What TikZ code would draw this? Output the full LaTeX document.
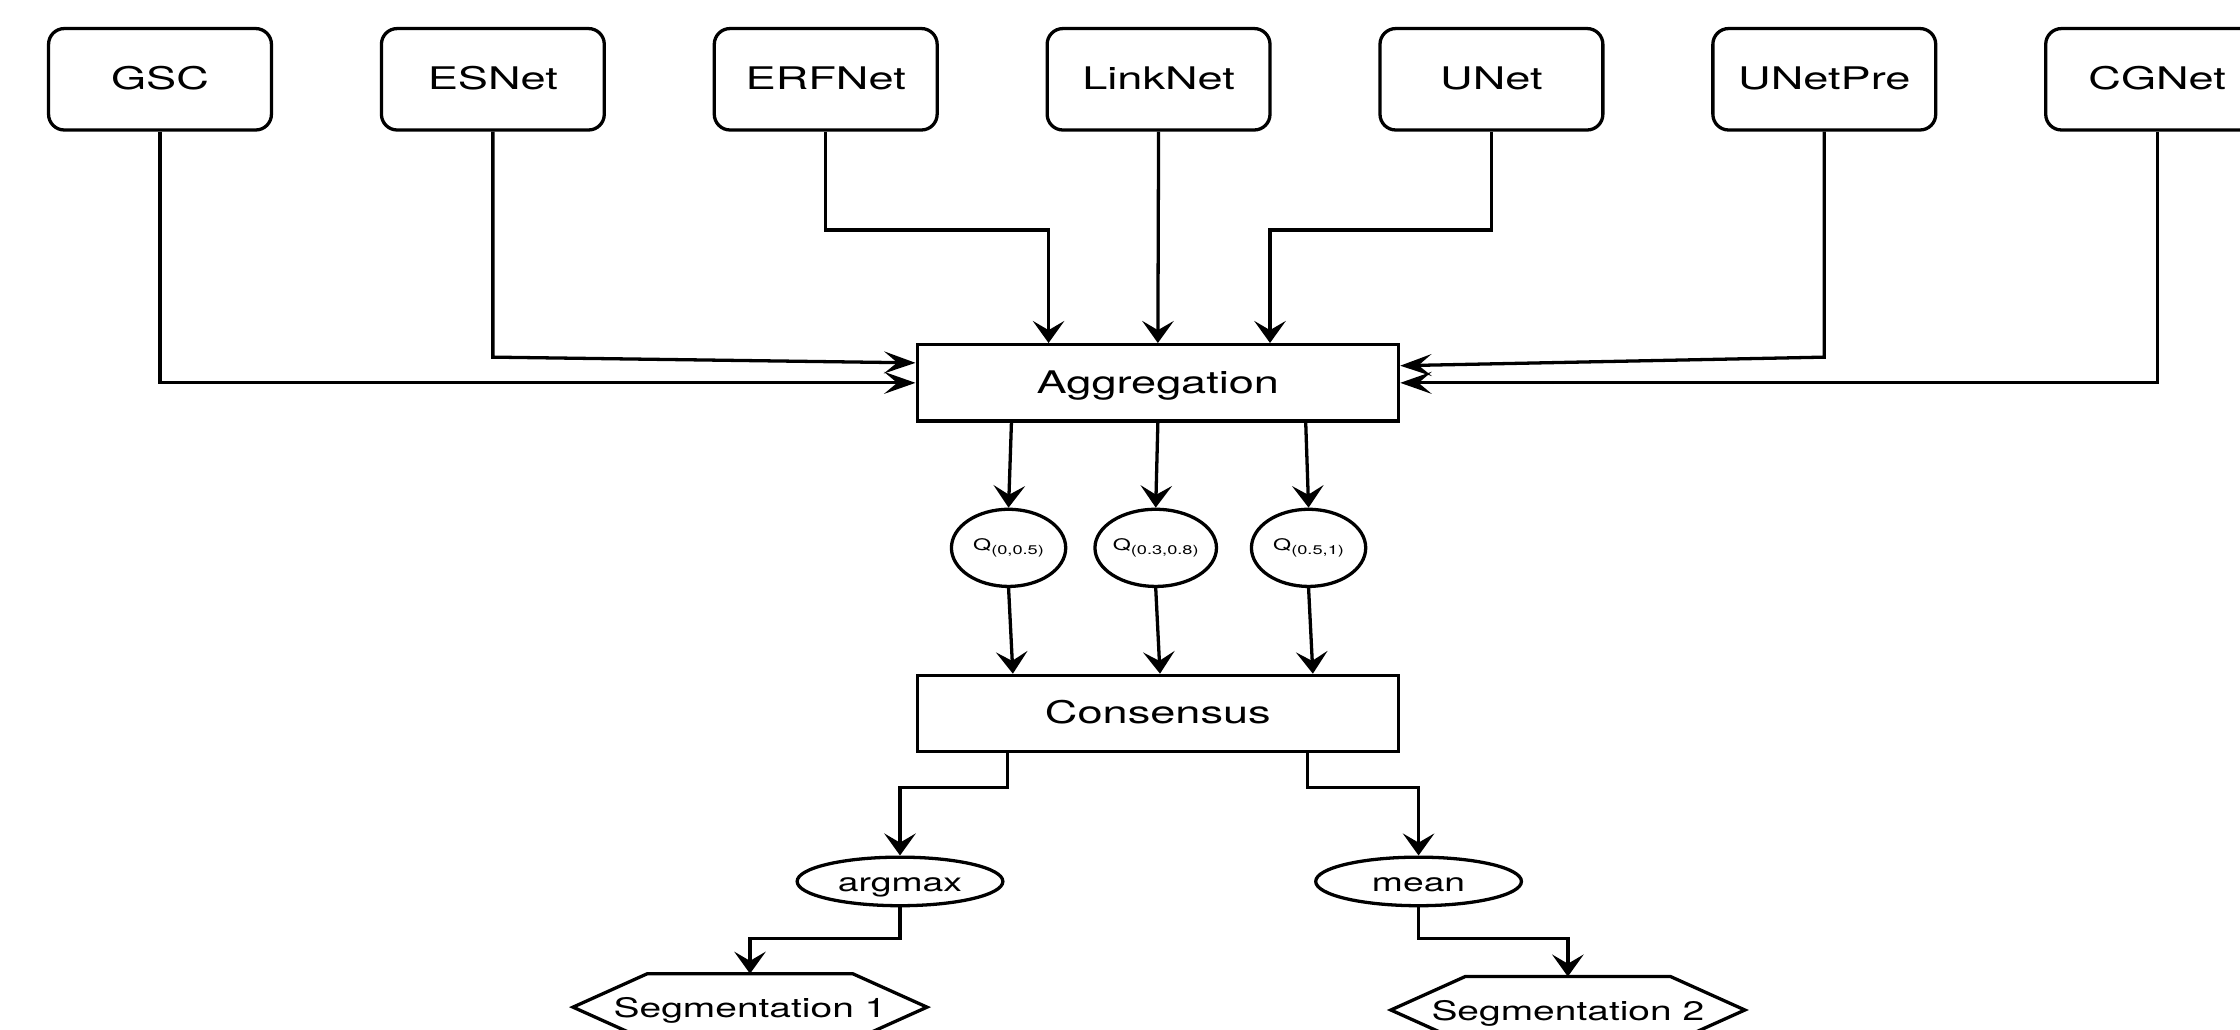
\documentclass[tikz,border=0pt]{standalone}
\usepackage{fontspec}
\setmainfont{TeX Gyre Heros}
\usepackage{graphicx}
\usetikzlibrary{arrows.meta,shapes.geometric}
\newcommand{\hstretch}[1]{\scalebox{1.45}[1]{#1}}
\newcommand{\qlab}[1]{\hstretch{Q\raisebox{-1.2pt}{\fontsize{4.4}{5}\selectfont(#1)}}}
\tikzset{
  capcenter/.style={text height=1.38ex, text depth=0pt},
  netbox/.style={draw, line width=1.15pt, rounded corners=5.5pt, minimum width=78pt, minimum height=35.5pt, inner sep=0pt, capcenter, font=\fontsize{10.9}{12}\selectfont},
  barbox/.style={draw, line width=1.15pt, minimum width=168.5pt, minimum height=26.75pt, inner sep=0pt, capcenter, font=\fontsize{10.9}{12}\selectfont},
  qell/.style={draw, line width=1.15pt, ellipse, minimum width=40pt, minimum height=27pt, inner sep=0pt, font=\fontsize{5.6}{7}\selectfont},
  opell/.style={draw, line width=1.15pt, ellipse, minimum width=72pt, minimum height=17pt, inner sep=0pt, capcenter, font=\fontsize{9}{10}\selectfont},
  segtxt/.style={minimum width=123.5pt, minimum height=23pt, inner sep=0pt, capcenter, font=\fontsize{9.4}{11}\selectfont},
  hexline/.style={draw, line width=1.15pt, line join=miter},
  varr/.style={draw, line width=1.15pt, -{Stealth[length=7.7pt,width=11pt,inset=3.2pt]}},
  harr/.style={draw, line width=1.15pt, -{Stealth[length=11pt,width=7.7pt,inset=4.6pt]}}
}
\begin{document}
\begin{tikzpicture}[x=0.5pt,y=-0.5pt]
\useasboundingbox (0,0) rectangle (1568,721);
% top network boxes
\node[netbox] (gsc)     at (112,55.5)  {\hstretch{GSC}};
\node[netbox] (esnet)   at (345,55.5)  {\hstretch{ESNet}};
\node[netbox] (erfnet)  at (578,55.5)  {\hstretch{ERFNet}};
\node[netbox] (linknet) at (811,55.5)  {\hstretch{LinkNet}};
\node[netbox] (unet)    at (1044,55.5) {\hstretch{UNet}};
\node[netbox] (unetpre) at (1277,55.5) {\hstretch{UNetPre}};
\node[netbox] (cgnet)   at (1510,55.5) {\hstretch{CGNet}};
% aggregation and consensus
\node[barbox] (agg)  at (810.5,268)   {\hstretch{Aggregation}};
\node[barbox] (cons) at (810.5,499.5) {\hstretch{Consensus}};
% quantile ellipses
\node[qell] (q1) at (706,383.5) {\qlab{0,0.5}};
\node[qell] (q2) at (809,383.5) {\qlab{0.3,0.8}};
\node[qell] (q3) at (916,383.5) {\qlab{0.5,1}};
% operations
\node[opell] (argmax) at (630,617) {\hstretch{argmax}};
\node[opell] (mean)   at (993,617) {\hstretch{mean}};
% segmentation hexagons
\node[segtxt] (seg1) at (525,705)    {\hstretch{Segmentation 1}};
\node[segtxt] (seg2) at (1097.5,707) {\hstretch{Segmentation 2}};
\draw[hexline] (seg1.west) -- ([xshift=26pt]seg1.north west) -- ([xshift=-26pt]seg1.north east) -- (seg1.east) -- ([xshift=-26pt]seg1.south east) -- ([xshift=26pt]seg1.south west) -- cycle;
\draw[hexline] (seg2.west) -- ([xshift=26pt]seg2.north west) -- ([xshift=-26pt]seg2.north east) -- (seg2.east) -- ([xshift=-26pt]seg2.south east) -- ([xshift=26pt]seg2.south west) -- cycle;
% connectors into aggregation
\draw[harr] (gsc.south) |- (agg.west);
\draw[harr] (esnet.south) -- (345,250) -- ([yshift=7pt]agg.west);
\draw[varr] (erfnet.south) -- (578,161) -- (734,161) -- ([xshift=-38.25pt]agg.north);
\draw[varr] (linknet.south) -- (agg.north);
\draw[varr] (unet.south) -- (1044,161) -- (889,161) -- ([xshift=39.25pt]agg.north);
\draw[harr] (unetpre.south) -- (1277,250) -- ([yshift=6pt]agg.east);
\draw[harr] (cgnet.south) |- (agg.east);
% aggregation to quantiles
\draw[varr] ([xshift=-51.25pt]agg.south) -- (q1.north);
\draw[varr] (agg.south) -- (q2.north);
\draw[varr] ([xshift=51.75pt]agg.south) -- (q3.north);
% quantiles to consensus
\draw[varr] (q1.south) -- ([xshift=-50.75pt]cons.north);
\draw[varr] (q2.south) -- ([xshift=0.75pt]cons.north);
\draw[varr] (q3.south) -- ([xshift=54.25pt]cons.north);
% consensus to operations
\draw[varr] ([xshift=-52.75pt]cons.south) -- (705,551) -- (630,551) -- (argmax.north);
\draw[varr] ([xshift=52.25pt]cons.south) -- (915,551) -- (993,551) -- (mean.north);
% operations to segmentations
\draw[varr] (argmax.south) -- (630,657) -- (525,657) -- (seg1.north);
\draw[varr] (mean.south) -- (993,657) -- (1097.5,657) -- (seg2.north);
\end{tikzpicture}
\end{document}
